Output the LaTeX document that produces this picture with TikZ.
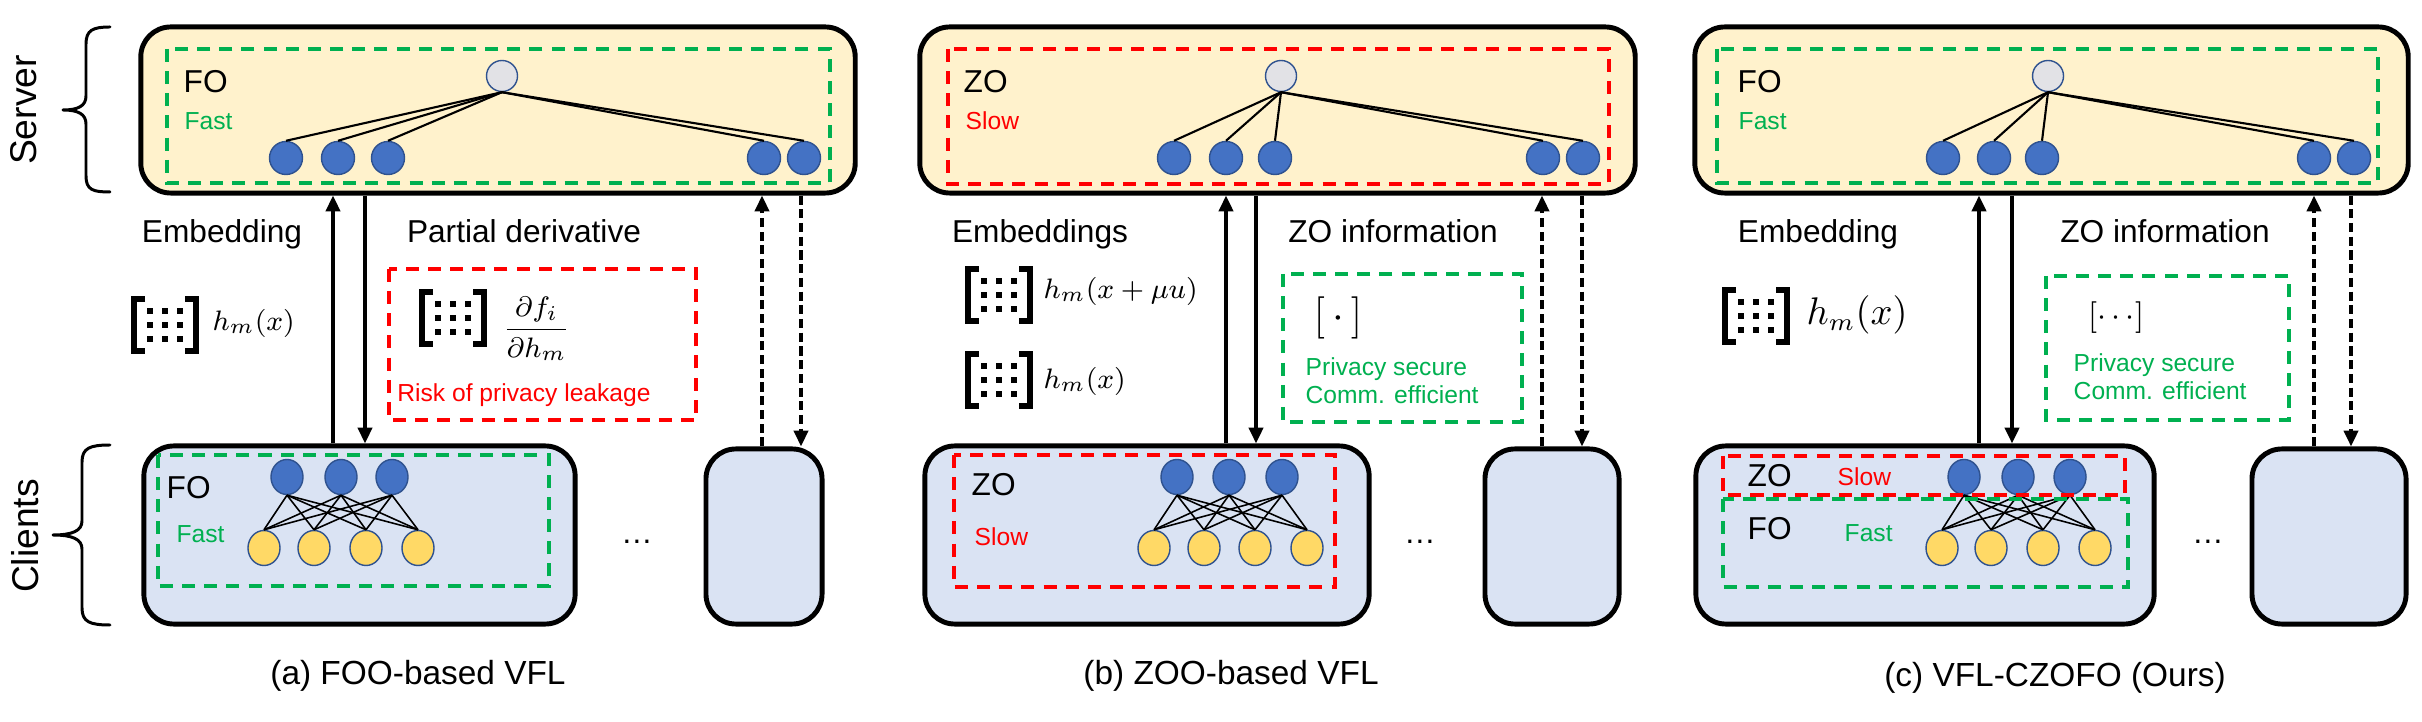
\documentclass[tikz,border=0pt]{standalone}
\usepackage{fontspec}
\setmainfont{Liberation Sans}
\usetikzlibrary{arrows.meta,shapes.geometric}
\definecolor{srvfill}{HTML}{FFF2CC}
\definecolor{clifill}{HTML}{DAE3F3}
\definecolor{nblue}{HTML}{4472C4}
\definecolor{nborder}{HTML}{2F528F}
\definecolor{nyellow}{HTML}{FFD966}
\definecolor{ngray}{HTML}{E2E2E6}
\definecolor{fgreen}{HTML}{00B050}
\definecolor{fred}{HTML}{FF0000}
\begin{document}
\begin{tikzpicture}[x=0.01cm,y=-0.01cm,
  srvbox/.style={draw=black,line width=1.4pt,fill=srvfill,rounded corners=8.5pt,inner sep=0},
  clibox/.style={draw=black,line width=1.4pt,fill=clifill,rounded corners=8.5pt,inner sep=0},
  gframe/.style={draw=fgreen,line width=1.15pt,dash pattern=on 3.7pt off 2.6pt},
  rframe/.style={draw=fred,line width=1.15pt,dash pattern=on 3.7pt off 2.6pt},
  snode/.style={circle,draw=nborder,line width=0.4pt,fill=nblue,minimum size=0.33cm,inner sep=0},
  topnode/.style={snode,fill=ngray,minimum size=0.31cm},
  cblue/.style={ellipse,draw=nborder,line width=0.4pt,fill=nblue,minimum width=0.32cm,minimum height=0.35cm,inner sep=0},
  cyellow/.style={cblue,fill=nyellow},
  tline/.style={line width=0.6pt},
  nline/.style={line width=0.45pt},
  arr/.style={line width=1.05pt,-{Triangle[length=4.5pt,width=4pt]}},
  darr/.style={line width=1pt,dash pattern=on 2.6pt off 1.3pt,-{Triangle[length=4.5pt,width=4pt]}},
  big/.style={font=\fontsize{9}{10}\selectfont,inner sep=0},
  sml/.style={font=\fontsize{7}{8.5}\selectfont,inner sep=0},
  mth/.style={font=\fontsize{8.5}{10}\selectfont,inner sep=0},
  side/.style={font=\fontsize{10.6}{12}\selectfont,inner sep=0,rotate=90},
  captxt/.style={font=\fontsize{9.5}{11}\selectfont,inner sep=0},
  brc/.style={line width=0.85pt,line cap=round,line join=round},
  vecmat/.pic={
    \draw[line width=1.5pt] (-20,-26) -- (-31,-26) -- (-31,26) -- (-20,26);
    \draw[line width=1.5pt] (20,-26) -- (31,-26) -- (31,26) -- (20,26);
    \foreach \i in {-15,0,15} \foreach \j in {-14,0,14}
      \fill (\i-2.8,\j-2.8) rectangle (\i+2.8,\j+2.8);
  }
]
\useasboundingbox (0,0) rectangle (2422,722);

% ---------- side labels and braces ----------
\node[side] (lserver) at (24,110) {Server};
\node[side] (lclients) at (25,536) {Clients};
\draw[brc] (110,27) .. controls (93,27) and (86,30) .. (86,44) -- (86,96)
  .. controls (86,106) and (78,110) .. (63,110)
  .. controls (78,110) and (86,114) .. (86,124) -- (86,176)
  .. controls (86,190) and (93,192) .. (110,192);
\draw[brc] (110,445) .. controls (90,445) and (82,448) .. (82,462) -- (82,521)
  .. controls (82,531) and (72,535) .. (53,535)
  .. controls (72,535) and (82,539) .. (82,549) -- (82,608)
  .. controls (82,622) and (90,625) .. (110,625);

% ================= Panel (a) =================
\node[srvbox,minimum width=7.14cm,minimum height=1.66cm] (sa) at (498,110) {};
\draw[gframe] (167,49) rectangle (830,183);
\node[big,anchor=base west] (sa-fo) at (183,93) {FO};
\node[sml,anchor=base west,text=fgreen] (sa-sp) at (184,130) {Fast};
\node[topnode] (sa-t) at (502,76) {};
\foreach \n/\x in {1/286,2/338,3/388,4/764,5/804}{
  \node[snode] (sa-\n) at (\x,158) {};
  \draw[tline] (sa-t.south) -- (sa-\n.north);
}

\node[clibox,minimum width=4.31cm,minimum height=1.78cm] (ca) at (359.5,535) {};
\draw[gframe] (158,455) rectangle (549,586);
\node[big,anchor=base west] (ca-fo) at (166,499) {FO};
\node[sml,anchor=base west,text=fgreen] (ca-sp) at (176,543) {Fast};
\foreach \n/\x in {1/287,2/341,3/392}{ \node[cblue] (ca-b\n) at (\x,477) {}; }
\foreach \n/\x in {1/264,2/314,3/366,4/418}{ \node[cyellow] (ca-y\n) at (\x,548) {}; }
\foreach \b in {1,2,3}{ \foreach \y in {1,2,3,4}{ \draw[nline] (ca-b\b.south) -- (ca-y\y.north); } }
\node[clibox,minimum width=1.16cm,minimum height=1.75cm] (da) at (764,536.5) {};
\node[big,anchor=base] (ca-dots) at (637,544) {…};

\coordinate (xa1) at (333,0); \coordinate (xa2) at (365,0);
\coordinate (xa3) at (762,0); \coordinate (xa4) at (801,0);
\draw[arr] (ca.north -| xa1) -- (sa.south -| xa1);
\draw[arr] (sa.south -| xa2) -- (ca.north -| xa2);
\draw[darr] (da.north -| xa3) -- (sa.south -| xa3);
\draw[darr] (sa.south -| xa4) -- (da.north -| xa4);

\node[big,anchor=base] (ta1) at (222,243) {Embedding};
\node[big,anchor=base] (ta2) at (524,243) {Partial derivative};
\pic at (165,325) {vecmat};
\node[mth,anchor=west] (ha) at (212,323) {$h_m(x)$};
\draw[rframe] (389,269) rectangle (696,420);
\pic at (453,318) {vecmat};
\node[mth,anchor=west] (fa) at (502,329) {$\displaystyle\frac{\partial f_i}{\partial h_m}$};
\node[sml,anchor=base,text=fred] (risk) at (524,402) {Risk of privacy leakage};
\node[captxt,anchor=base] (capa) at (418,684) {(a) FOO-based VFL};

% ================= Panel (b) =================
\node[srvbox,minimum width=7.15cm,minimum height=1.66cm] (sb) at (1277.5,110) {};
\draw[rframe] (948,49) rectangle (1609,184);
\node[big,anchor=base west] (sb-zo) at (963,93) {ZO};
\node[sml,anchor=base west,text=fred] (sb-sp) at (965,130) {Slow};
\node[topnode] (sb-t) at (1281,76) {};
\foreach \n/\x in {1/1174,2/1226,3/1275,4/1543,5/1583}{
  \node[snode] (sb-\n) at (\x,158) {};
  \draw[tline] (sb-t.south) -- (sb-\n.north);
}

\node[clibox,minimum width=4.44cm,minimum height=1.78cm] (cb) at (1147,535) {};
\draw[rframe] (954,455) rectangle (1335,587);
\node[big,anchor=base west] (cb-zo) at (971,495) {ZO};
\node[sml,anchor=base west,text=fred] (cb-sp) at (974,545) {Slow};
\foreach \n/\x in {1/1177,2/1229,3/1282}{ \node[cblue] (cb-b\n) at (\x,477) {}; }
\foreach \n/\x in {1/1154,2/1204,3/1255,4/1307}{ \node[cyellow] (cb-y\n) at (\x,548) {}; }
\foreach \b in {1,2,3}{ \foreach \y in {1,2,3,4}{ \draw[nline] (cb-b\b.south) -- (cb-y\y.north); } }
\node[clibox,minimum width=1.34cm,minimum height=1.75cm] (db) at (1552,536.5) {};
\node[big,anchor=base] (cb-dots) at (1420,544) {…};

\coordinate (xb1) at (1226,0); \coordinate (xb2) at (1256,0);
\coordinate (xb3) at (1542,0); \coordinate (xb4) at (1582,0);
\draw[arr] (cb.north -| xb1) -- (sb.south -| xb1);
\draw[arr] (sb.south -| xb2) -- (cb.north -| xb2);
\draw[darr] (db.north -| xb3) -- (sb.south -| xb3);
\draw[darr] (sb.south -| xb4) -- (db.north -| xb4);

\node[big,anchor=base] (tb1) at (1040,243) {Embeddings};
\node[big,anchor=base] (tb2) at (1393,243) {ZO information};
\pic at (999,295) {vecmat};
\node[mth,anchor=west] (hb1) at (1043,291) {$h_m(x+\mu u)$};
\pic at (999,380) {vecmat};
\node[mth,anchor=west] (hb2) at (1043,381) {$h_m(x)$};
\draw[gframe] (1283,274) rectangle (1522,422);
\node[font=\fontsize{12}{14}\selectfont,inner sep=0] (vb) at (1338,318) {$[\,\cdot\,]$};
\node[sml,anchor=base west,text=fgreen] (pb1) at (1305,376) {Privacy secure};
\node[sml,anchor=base west,text=fgreen] (pb2) at (1305,404) {Comm. efficient};
\node[captxt,anchor=base] (capb) at (1231,684) {(b) ZOO-based VFL};

% ================= Panel (c) =================
\node[srvbox,minimum width=7.13cm,minimum height=1.66cm] (sc) at (2051.5,110) {};
\draw[gframe] (1717,49) rectangle (2378,183);
\node[big,anchor=base west] (sc-fo) at (1737,93) {FO};
\node[sml,anchor=base west,text=fgreen] (sc-sp) at (1738,130) {Fast};
\node[topnode] (sc-t) at (2048,76) {};
\foreach \n/\x in {1/1943,2/1994,3/2042,4/2314,5/2354}{
  \node[snode] (sc-\n) at (\x,158) {};
  \draw[tline] (sc-t.south) -- (sc-\n.north);
}

\node[clibox,minimum width=4.58cm,minimum height=1.78cm] (cc) at (1925,535) {};
\foreach \n/\x in {1/1964,2/2018,3/2070}{ \node[cblue] (cc-b\n) at (\x,477) {}; }
\foreach \n/\x in {1/1942,2/1991,3/2043,4/2095}{ \node[cyellow] (cc-y\n) at (\x,548) {}; }
\foreach \b in {1,2,3}{ \foreach \y in {1,2,3,4}{ \draw[nline] (cc-b\b.south) -- (cc-y\y.north); } }
\draw[rframe] (1723,456) rectangle (2125,495);
\draw[gframe] (1723,499) rectangle (2128,587);
\node[big,anchor=base west] (cc-zo) at (1747,487) {ZO};
\node[sml,anchor=base west,text=fred] (cc-sl) at (1837,486) {Slow};
\node[big,anchor=base west] (cc-fo) at (1747,540) {FO};
\node[sml,anchor=base west,text=fgreen] (cc-sp) at (1844,542) {Fast};
\node[clibox,minimum width=1.54cm,minimum height=1.75cm] (dc) at (2329,536.5) {};
\node[big,anchor=base] (cc-dots) at (2208,544) {…};

\coordinate (xc1) at (1979,0); \coordinate (xc2) at (2012,0);
\coordinate (xc3) at (2314,0); \coordinate (xc4) at (2351,0);
\draw[arr] (cc.north -| xc1) -- (sc.south -| xc1);
\draw[arr] (sc.south -| xc2) -- (cc.north -| xc2);
\draw[darr] (dc.north -| xc3) -- (sc.south -| xc3);
\draw[darr] (sc.south -| xc4) -- (dc.north -| xc4);

\node[big,anchor=base] (tc1) at (1818,243) {Embedding};
\node[big,anchor=base] (tc2) at (2165,243) {ZO information};
\pic at (1756,316) {vecmat};
\node[font=\fontsize{10.5}{12}\selectfont,inner sep=0,anchor=west] (hc) at (1806,315) {$h_m(x)$};
\draw[gframe] (2046,276) rectangle (2289,420);
\node[font=\fontsize{9.5}{11}\selectfont,inner sep=0] (vc) at (2116,318) {$[\cdots]$};
\node[sml,anchor=base west,text=fgreen] (pc1) at (2073,372) {Privacy secure};
\node[sml,anchor=base west,text=fgreen] (pc2) at (2073,400) {Comm. efficient};
\node[captxt,anchor=base] (capc) at (2055,686) {(c) VFL-CZOFO (Ours)};
\end{tikzpicture}
\end{document}
